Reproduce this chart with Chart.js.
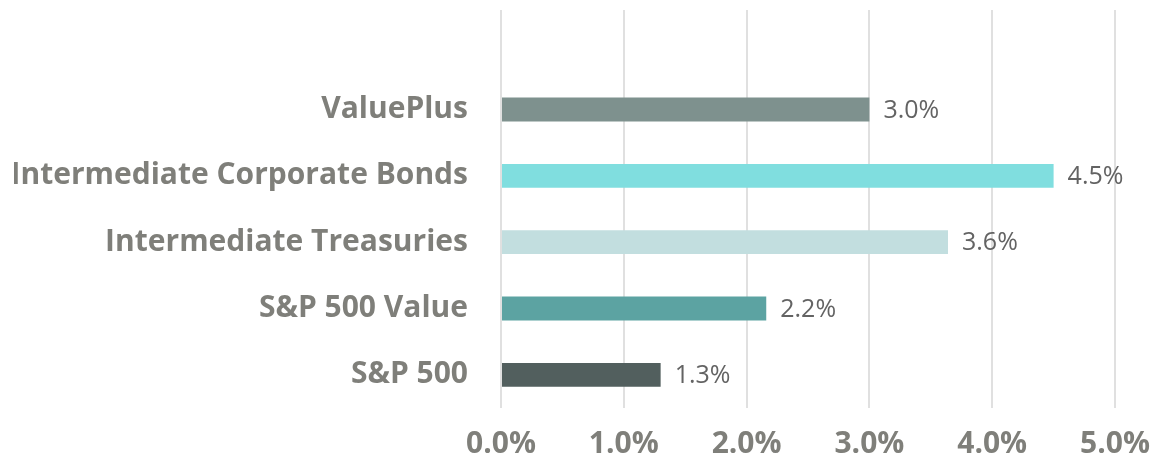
<!DOCTYPE html>
<html><head><meta charset="utf-8">
<script src="https://cdn.jsdelivr.net/npm/chart.js@4/dist/chart.umd.min.js"></script>
<style>html,body{margin:0;padding:0;background:#fff}#wrap{width:1159px;height:469px}</style>
</head><body><div id="wrap"><canvas id="c" width="1159" height="469"></canvas></div>
<script>
const categories = ["", "ValuePlus", "Intermediate Corporate Bonds", "Intermediate Treasuries", "S&P 500 Value", "S&P 500"];
const values = [null, 3.0, 4.5, 3.64, 2.16, 1.3];
const barColors = ["#ffffff", "#7E918E", "#80DEDF", "#C2DEDF", "#5CA3A2", "#525F5E"];
const xTicks = [0, 1, 2, 3, 4, 5];

const labelPlugin = {
  id: 'vlabels',
  afterDatasetsDraw(chart) {
    const ctx = chart.ctx;
    const meta = chart.getDatasetMeta(0);
    ctx.save();
    ctx.font = '25px "Open Sans"';
    ctx.fillStyle = '#636363';
    ctx.textBaseline = 'middle';
    ctx.textAlign = 'left';
    meta.data.forEach((bar, i) => {
      const v = values[i];
      if (v === null) return;
      ctx.fillText(v.toFixed(1) + '%', bar.x + 14, bar.y + 1);
    });
    ctx.restore();
  }
};

new Chart(document.getElementById('c'), {
  type: 'bar',
  data: {
    labels: categories,
    datasets: [{ data: values, backgroundColor: barColors, barPercentage: 0.36, categoryPercentage: 1 }]
  },
  options: {
    indexAxis: 'y',
    responsive: false,
    animation: false,
    layout: { padding: { top: 10, right: 44, left: 14, bottom: 0 } },
    plugins: { legend: { display: false }, tooltip: { enabled: false } },
    scales: {
      x: {
        min: 0, max: 5,
        afterBuildTicks: (s) => { s.ticks = xTicks.map(v => ({ value: v })); },
        afterFit: (s) => { s.height = 61; s.paddingRight = 0; s.paddingLeft = 0; },
        grid: { color: '#E0E0E0', lineWidth: 2, drawTicks: false },
        border: { display: false },
        ticks: {
          padding: 18,
          maxRotation: 0, minRotation: 0, autoSkip: false,
          color: '#7F7F7A',
          font: { family: '"Open Sans"', size: 30, weight: 'bold' },
          callback: (v) => Number(v).toFixed(1) + '%'
        }
      },
      y: {
        afterFit: (s) => { s.width = 487; s.paddingTop = 0; s.paddingBottom = 0; },
        grid: { display: false, drawTicks: false },
        border: { display: false },
        ticks: {
          padding: 33,
          color: '#7F7F7A',
          font: { family: '"Open Sans"', size: 30, weight: 'bold' }
        }
      }
    }
  },
  plugins: [labelPlugin]
});
</script></body></html>
